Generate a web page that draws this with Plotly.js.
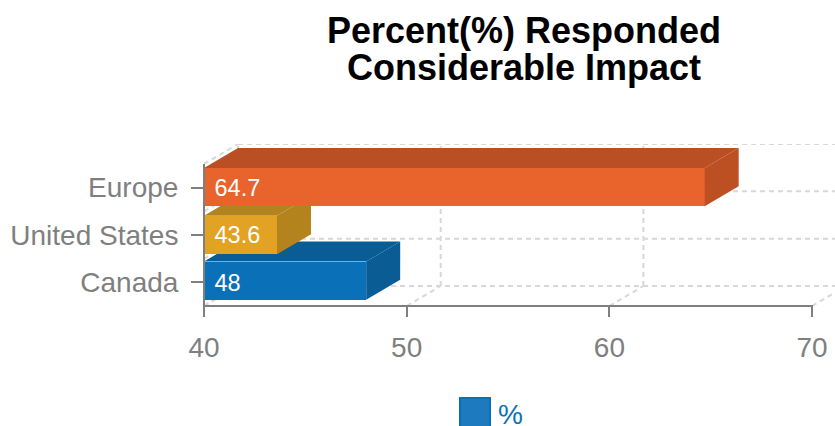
<!DOCTYPE html>
<html><head><meta charset="utf-8">
<script src="https://cdn.plot.ly/plotly-3.0.1.min.js"></script>
<style>html,body{margin:0;padding:0;background:#fff;overflow:hidden}</style>
</head><body><div id="chart" style="width:835px;height:426px"></div>
<script>
const categories = ['Canada', 'United States', 'Europe'];
const values = [48, 43.6, 64.7];
const frontColors = ['#0A71B9', '#E2A324', '#E9632C'];
const topColors = ['#0A5C94', '#B3841D', '#B94F22'];
const sideColors = ['#0A5C94', '#B3841D', '#BC5022'];
const barShift = [0.035, 0, 0.012];
const xTicks = [40, 50, 60, 70];
const titleLines = ['Percent(%) Responded', 'Considerable Impact'];
const legendLabel = '%';

const W = 835, H = 426, L = 204, T = 144, B = 306;
const pxPerX = 20.27, pxPerY = 47.33;
const xRange = [40, 40 + (W - L) / pxPerX];
const yRange = [-0.5, -0.5 + (B - T) / pxPerY];
const dx = 34 / pxPerX, dy = 20 / pxPerY;
const barW = 0.81;
const base = 40;
const px = v => (v - L) / (W - L);
const py = v => (B - v) / (B - T);

const traces = [];
categories.forEach((c, i) => {
  const n = i === 0 ? '' : String(i + 1);
  const xa = 'x' + n, ya = 'y' + n;
  const lo = i + barShift[i] - barW / 2, hi = lo + barW, v = values[i];
  traces.push({type: 'bar', orientation: 'h', x: [v - base], base: [base], y: [i + barShift[i]], width: [barW],
    marker: {color: frontColors[i], line: {width: 0}}, name: c, xaxis: xa, yaxis: ya, hoverinfo: 'skip', showlegend: false});
  traces.push({type: 'scatter', mode: 'lines', fill: 'toself', fillcolor: topColors[i], line: {width: 0},
    x: [base, v, v + dx, base + dx, base], y: [hi, hi, hi + dy, hi + dy, hi],
    xaxis: xa, yaxis: ya, hoverinfo: 'skip', showlegend: false});
  traces.push({type: 'scatter', mode: 'lines', fill: 'toself', fillcolor: sideColors[i], line: {width: 0},
    x: [v, v + dx, v + dx, v, v], y: [lo, lo + dy, hi + dy, hi, lo],
    xaxis: xa, yaxis: ya, hoverinfo: 'skip', showlegend: false});
  traces.push({type: 'scatter', mode: 'text', x: [base + 0.52], y: [i - 0.05], text: [String(v)],
    textposition: 'middle right', textfont: {family: 'Liberation Sans', size: 23.5, color: '#ffffff'},
    xaxis: xa, yaxis: ya, hoverinfo: 'skip', showlegend: false});
});

const grid = {color: '#d8d8d8', width: 2, dash: '5px,4px'};
const shapes = [];
const seg = (x0, y0, x1, y1) => shapes.push({type: 'line', xref: 'x', yref: 'y', layer: 'below', x0, y0, x1, y1, line: grid});
const levels = categories.map((c, i) => i - 0.5).concat(categories.length - 0.5);
levels.forEach(b => {
  seg(base + dx, b + dy, xRange[1], b + dy);
  seg(base, b, base + dx, b + dy);
});
xTicks.forEach(t => {
  seg(t + dx, -0.5 + dy, t + dx, levels[levels.length - 1] + dy);
  seg(t, -0.5, t + dx, -0.5 + dy);
});
const axisLine = {color: '#7f7f7f', width: 2};
shapes.push({type: 'line', xref: 'paper', yref: 'paper', layer: 'above', x0: px(203), y0: py(306), x1: px(813), y1: py(306), line: axisLine});
shapes.push({type: 'line', xref: 'paper', yref: 'paper', layer: 'above', x0: px(204), y0: py(306), x1: px(204), y1: py(164), line: axisLine});
shapes.push({type: 'rect', xref: 'paper', yref: 'paper', x0: px(460), x1: px(490), y0: py(427), y1: py(398),
  fillcolor: '#1C7ABF', line: {color: '#0A71B9', width: 2}});

const hiddenX = {range: xRange, overlaying: 'x', visible: false, fixedrange: true};
const hiddenY = {range: yRange, overlaying: 'y', visible: false, fixedrange: true};
const tickFont = {family: 'Liberation Sans', size: 28, color: '#7f7f7f'};
const titleFont = {family: 'Liberation Sans', size: 36, color: '#000', weight: 700};
const layout = {
  width: W, height: H,
  margin: {l: L, r: 0, t: T, b: H - B, pad: 0},
  paper_bgcolor: '#fff', plot_bgcolor: 'rgba(0,0,0,0)',
  showlegend: false, bargap: 0,
  title: {text: titleLines[0], x: 524 / W, xanchor: 'center', y: 1 - 30 / H, yanchor: 'middle', font: titleFont},
  xaxis: {range: xRange, tickmode: 'array', tickvals: xTicks, ticktext: xTicks.map(String), ticks: 'outside', ticklen: 10, tickwidth: 2,
    tickcolor: '#7f7f7f', showgrid: false, zeroline: false, showline: false, tickfont: tickFont, ticklabelstandoff: 6, fixedrange: true},
  yaxis: {range: yRange, tickmode: 'array', tickvals: categories.map((c, i) => i), ticktext: categories, ticks: 'outside', ticklen: 12, tickwidth: 2,
    tickcolor: '#7f7f7f', showgrid: false, zeroline: false, showline: false, tickfont: tickFont, ticklabelstandoff: 7, fixedrange: true},
  xaxis2: hiddenX, yaxis2: hiddenY, xaxis3: hiddenX, yaxis3: hiddenY,
  shapes,
  annotations: [
    {xref: 'paper', yref: 'paper', x: px(524), y: py(68), xanchor: 'center', yanchor: 'middle', showarrow: false,
      text: titleLines[1], font: titleFont},
    {xref: 'paper', yref: 'paper', x: px(496), y: py(414), xanchor: 'left', yanchor: 'middle', showarrow: false,
      text: legendLabel, font: {family: 'Liberation Sans', size: 28, color: '#0A71B9'}}]
};
Plotly.newPlot('chart', traces, layout, {displayModeBar: false, responsive: false});
</script></body></html>
